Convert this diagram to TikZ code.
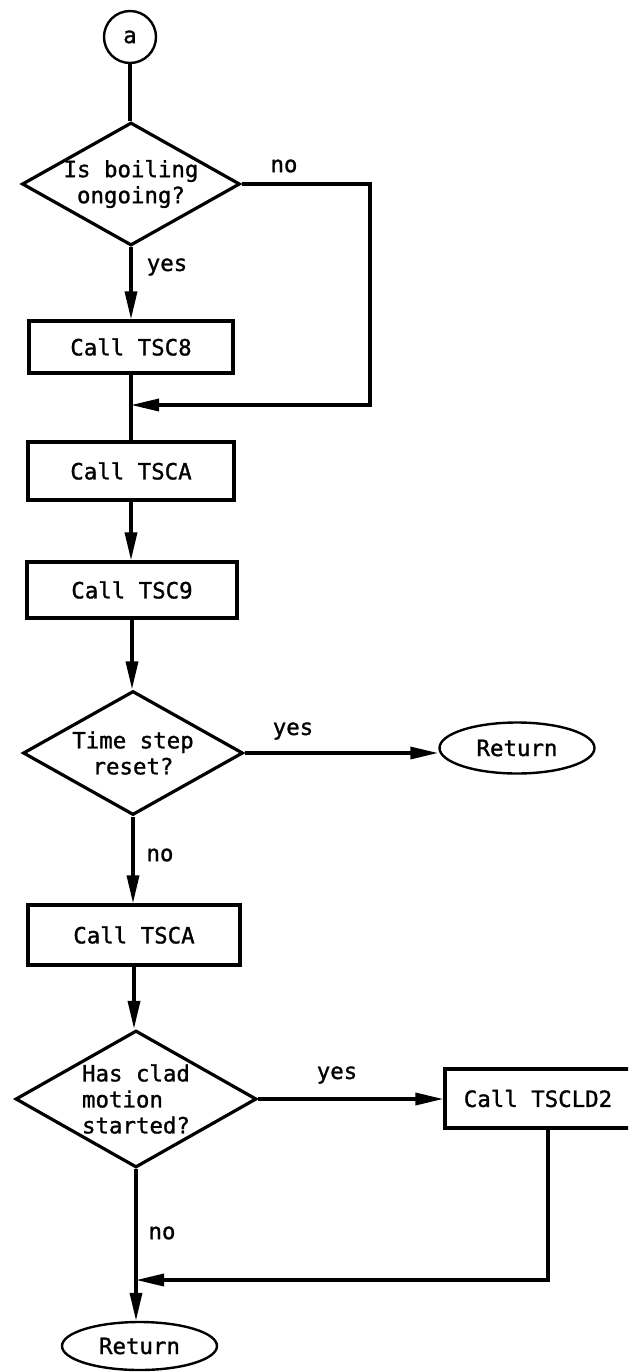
\documentclass[tikz,border=0pt]{standalone}
\usepackage{fontspec}
\setmonofont[FakeBold=1.2]{DejaVu Sans Mono}
\usetikzlibrary{shapes.geometric,arrows.meta}
\begin{document}
\begin{tikzpicture}[x=0.5pt,y=-0.5pt,
  every node/.style={font=\ttfamily\fontsize{11.2}{13}\selectfont},
  line/.style={line width=1.7pt},
  arr/.style={line width=1.7pt,-{Triangle[length=14pt,width=6pt]}},
  proc/.style={draw,rectangle,line width=1.6pt,inner sep=0pt},
  dec/.style={draw,diamond,line width=1.6pt,inner sep=0pt},
  term/.style={draw,ellipse,line width=1.2pt,inner sep=0pt},
  lbl/.style={inner sep=0pt}]
\useasboundingbox (0,0) rectangle (628,1372);
\clip (0,0) rectangle (628,1372);

% nodes
\node[draw,circle,line width=1.2pt,minimum size=26pt,inner sep=0pt] (a) at (130,37) {a};
\node[dec,minimum width=109pt,minimum height=61.5pt,
      label={[align=center]center:Is boiling\\ongoing?}] (d1) at (131,184) {};
\node[proc,minimum width=102pt,minimum height=26pt] (b1) at (131,347) {Call TSC8};
\coordinate (j1) at (131,405);
\coordinate (c1) at (370,184);
\node[proc,minimum width=103pt,minimum height=29pt] (b2) at (131,471) {Call TSCA};
\node[proc,minimum width=105pt,minimum height=28pt] (b3) at (132,590) {Call TSC9};
\node[dec,minimum width=110pt,minimum height=62pt,
      label={[align=center]center:Time step\\reset?}] (d2) at (133,753) {};
\node[term,minimum width=77.5pt,minimum height=25.5pt] (r1) at (517,748) {Return};
\node[proc,minimum width=106pt,minimum height=30pt] (b4) at (134,935) {Call TSCA};
\node[dec,minimum width=120.5pt,minimum height=68.5pt,
      label={[align=left]center:Has clad\\motion\\started?}] (d3) at (136,1099) {};
\node[proc,minimum width=93pt,minimum height=29.5pt] (b5) at (538,1098.5) {Call TSCLD2};
\coordinate (c2) at (548,1280);
\coordinate (j2) at (136,1280);
\node[term,minimum width=77.5pt,minimum height=24pt] (r2) at (139.5,1346) {Return};

% labels
\node[lbl] (l1) at (284,166) {no};
\node[lbl] (l2) at (167,267) {yes};
\node[lbl] (l3) at (293,731) {yes};
\node[lbl] (l4) at (160,855) {no};
\node[lbl] (l5) at (337,1075) {yes};
\node[lbl] (l6) at (162,1233) {no};

% connectors
\draw[line] (a.south) -- (a.south |- d1.north);
\draw[arr] (d1.south) -- (d1.south |- b1.north);
\draw[line] (b1.south) -- (b1.south |- b2.north);
\draw[arr] (d1.east) -- (c1) |- (j1);
\draw[arr] (b2.south) -- (b2.south |- b3.north);
\draw[arr] (b3.south) -- (b3.south |- d2.north);
\draw[arr] (d2.east) -- (d2.east -| r1.west);
\draw[arr] (d2.south) -- (d2.south |- b4.north);
\draw[arr] (b4.south) -- (b4.south |- d3.north);
\draw[arr] (d3.east) -- (d3.east -| b5.west);
\draw[arr] (d3.south) -- (d3.south |- r2.north);
\draw[arr] (c2 |- b5.south) -- (c2) -- (j2);
\end{tikzpicture}
\end{document}
